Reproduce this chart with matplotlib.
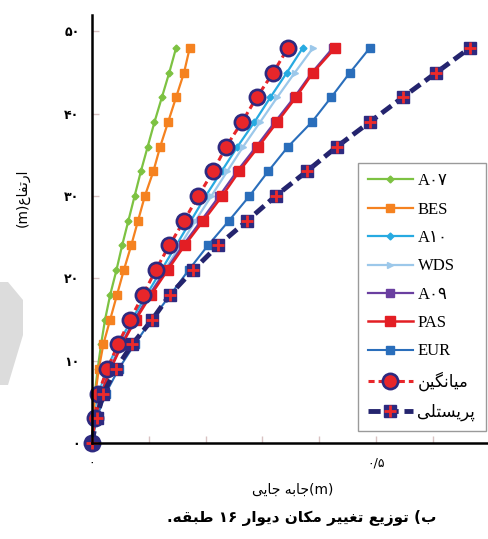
import matplotlib
matplotlib.use('Agg')
import matplotlib.pyplot as plt
from matplotlib.patches import Polygon

# storey heights (m)
heights = [0, 3, 6, 9, 12, 15, 18, 21, 24, 27, 30, 33, 36, 39, 42, 45, 48]

# lateral displacement (m) per method
a07 = [0, 0.002, 0.005, 0.010, 0.016, 0.023, 0.032, 0.043, 0.053, 0.064, 0.075, 0.086, 0.098, 0.110, 0.123, 0.136, 0.148]
bes = [0, 0.002, 0.006, 0.012, 0.020, 0.032, 0.044, 0.056, 0.069, 0.081, 0.093, 0.108, 0.120, 0.134, 0.148, 0.162, 0.172]
a10 = [0, 0.004, 0.012, 0.026, 0.046, 0.070, 0.096, 0.122, 0.148, 0.174, 0.200, 0.228, 0.256, 0.286, 0.314, 0.343, 0.371]
wds = [0, 0.005, 0.014, 0.029, 0.050, 0.075, 0.101, 0.128, 0.155, 0.182, 0.210, 0.238, 0.266, 0.296, 0.326, 0.357, 0.389]
a09 = [0, 0.006, 0.016, 0.032, 0.052, 0.075, 0.101, 0.130, 0.160, 0.192, 0.224, 0.255, 0.289, 0.322, 0.356, 0.387, 0.424]
pas = [0, 0.006, 0.017, 0.033, 0.053, 0.077, 0.104, 0.133, 0.163, 0.196, 0.229, 0.259, 0.293, 0.326, 0.359, 0.389, 0.428]
eur = [0, 0.008, 0.024, 0.047, 0.075, 0.105, 0.138, 0.170, 0.204, 0.241, 0.277, 0.310, 0.345, 0.387, 0.421, 0.454, 0.489]
mean = [0, 0.005, 0.011, 0.027, 0.046, 0.067, 0.090, 0.112, 0.136, 0.162, 0.187, 0.213, 0.236, 0.264, 0.290, 0.319, 0.345]
presley = [0, 0.008, 0.020, 0.042, 0.071, 0.106, 0.137, 0.178, 0.222, 0.273, 0.323, 0.378, 0.431, 0.489, 0.547, 0.606, 0.665]

# labels; Persian words are given as presentation forms in visual order
# because matplotlib does no shaping or bidi
lbl_a07 = 'A\u06f0\u06f7'
lbl_a10 = 'A\u06f1\u06f0'
lbl_a09 = 'A\u06f0\u06f9'
lbl_mean = '\ufee6\ufbff\ufb95\ufee7\ufe8e\ufbff\ufee3'          # میانگین
lbl_presley = '\ufbfd\ufee0\ufe98\ufeb4\ufbfe\ufeae\ufb58'       # پریستلی
ytick_labels = ['\u06f0', '\u06f1\u06f0', '\u06f2\u06f0', '\u06f3\u06f0', '\u06f4\u06f0', '\u06f5\u06f0']
xtick_labels = ['\u06f0', '', '', '', '', '\u06f0/\u06f5', '']
ylabel_txt = '(m)' + '\ufec9\ufe8e\ufed4\ufe97\ufead\ufe8d'      # ارتفاع(m)
xlabel_txt = '\ufbfd\ufbfe\ufe8e\ufe9f' + ' ' + '\ufeea\ufe91\ufe8e\ufe9f' + '(m)'   # جابه جایی(m)
title_txt = ('.' + '\ufeea\ufed8\ufe92\ufec3' + ' ' + '\u06f1\u06f6' + ' '
             + '\ufead\ufe8d\ufeee\ufbfe\ufea9' + ' ' + '\ufee5\ufe8e\ufb91\ufee3' + ' '
             + '\ufeae\ufbff\ufbff\ufed0\ufe97' + ' ' + '\ufeca\ufbfe\ufeaf\ufeee\ufe97'
             + ' ' + '(' + '\ufe8f')

navy = '#2e2a80'
red = '#e8262a'

fig = plt.figure(figsize=(4.88, 5.39), dpi=100)
W, H = 488, 539
ax = fig.add_axes([92 / W, 96 / H, 396 / W, 428 / H])

# faint grey watermark at the left edge
fig.patches.append(Polygon([(0, 1 - 282 / H), (8 / W, 1 - 282 / H), (23 / W, 1 - 300 / H),
                            (23 / W, 1 - 335 / H), (8 / W, 1 - 385 / H), (0, 1 - 385 / H)],
                           closed=True, transform=fig.transFigure, facecolor='#dcdcdc',
                           edgecolor='none', zorder=0))

l1, = ax.plot(a07, heights, color='#7dc242', lw=1.6, marker='D', ms=3.5, clip_on=False)
l2, = ax.plot(bes, heights, color='#f58220', lw=1.6, marker='s', ms=6, clip_on=False)
l3, = ax.plot(a10, heights, color='#27aae1', lw=1.6, marker='D', ms=3.5, clip_on=False)
l4, = ax.plot(wds, heights, color='#9cc8ea', lw=1.6, marker='>', ms=4, clip_on=False)
l5, = ax.plot(a09, heights, color='#6a3fa0', lw=1.6, marker='s', ms=6, clip_on=False)
l6, = ax.plot(pas, heights, color='#e31e24', lw=1.8, marker='s', ms=6.5, clip_on=False)
l7, = ax.plot(eur, heights, color='#2a6ebb', lw=1.5, marker='s', ms=6, clip_on=False)
l8, = ax.plot(mean, heights, color=red, lw=2.2, ls=(0, (2, 1.3)), marker='o', ms=11,
              mfc=red, mec=navy, mew=1.9, clip_on=False)
l9, = ax.plot(presley, heights, color='#24246e', lw=3.5, ls=(0, (2.5, 1.2)), marker='s', ms=9,
              mfc=navy, mec=navy, clip_on=False)
l9b, = ax.plot(presley, heights, ls='none', marker='+', ms=8, mew=2, color='#ee2a2a', clip_on=False)

ax.set_xlim(0, 0.697)
ax.set_ylim(0, 52)
ax.set_yticks([0, 10, 20, 30, 40, 50])
ax.set_yticklabels(ytick_labels, fontweight='bold', fontsize=9, family=['DejaVu Sans'])
ax.set_xticks([0, 0.1, 0.2, 0.3, 0.4, 0.5, 0.6])
ax.set_xticklabels(xtick_labels, fontsize=9, family=['DejaVu Sans'])
ax.tick_params(axis='both', direction='in', length=5, color='#d9c2c2', width=1)
ax.tick_params(axis='y', pad=9)
ax.tick_params(axis='x', pad=10)
for s in ['top', 'right']:
    ax.spines[s].set_visible(False)
for s in ['left', 'bottom']:
    ax.spines[s].set_linewidth(1.8)
    ax.spines[s].set_color('black')

leg = ax.legend([l1, l2, l3, l4, l5, l6, l7, l8, (l9, l9b)],
                [lbl_a07, 'BES', lbl_a10, 'WDS', lbl_a09, 'PAS', 'EUR', lbl_mean, lbl_presley],
                loc='upper left', bbox_to_anchor=((358 - 92) / 396, (443 - 163) / 428),
                prop={'family': ['Liberation Serif', 'DejaVu Sans'], 'size': 12},
                handlelength=2.65, handletextpad=0.3, labelspacing=0.74, borderpad=0.62,
                borderaxespad=0, fancybox=False, framealpha=1, edgecolor='#9a9a9a')
leg.get_frame().set_linewidth(1)

fig.text(23 / W, 1 - 198 / H, ylabel_txt, rotation=90, ha='center', va='center',
         fontsize=10, family=['DejaVu Sans'])
fig.text(293 / W, 1 - 490 / H, xlabel_txt, ha='center', va='center',
         fontsize=10, family=['DejaVu Sans'])
fig.text(302 / W, 1 - 518 / H, title_txt, ha='center', va='center',
         fontsize=11, fontweight='bold', family=['DejaVu Sans'])

fig.savefig('out.png', dpi=100)
